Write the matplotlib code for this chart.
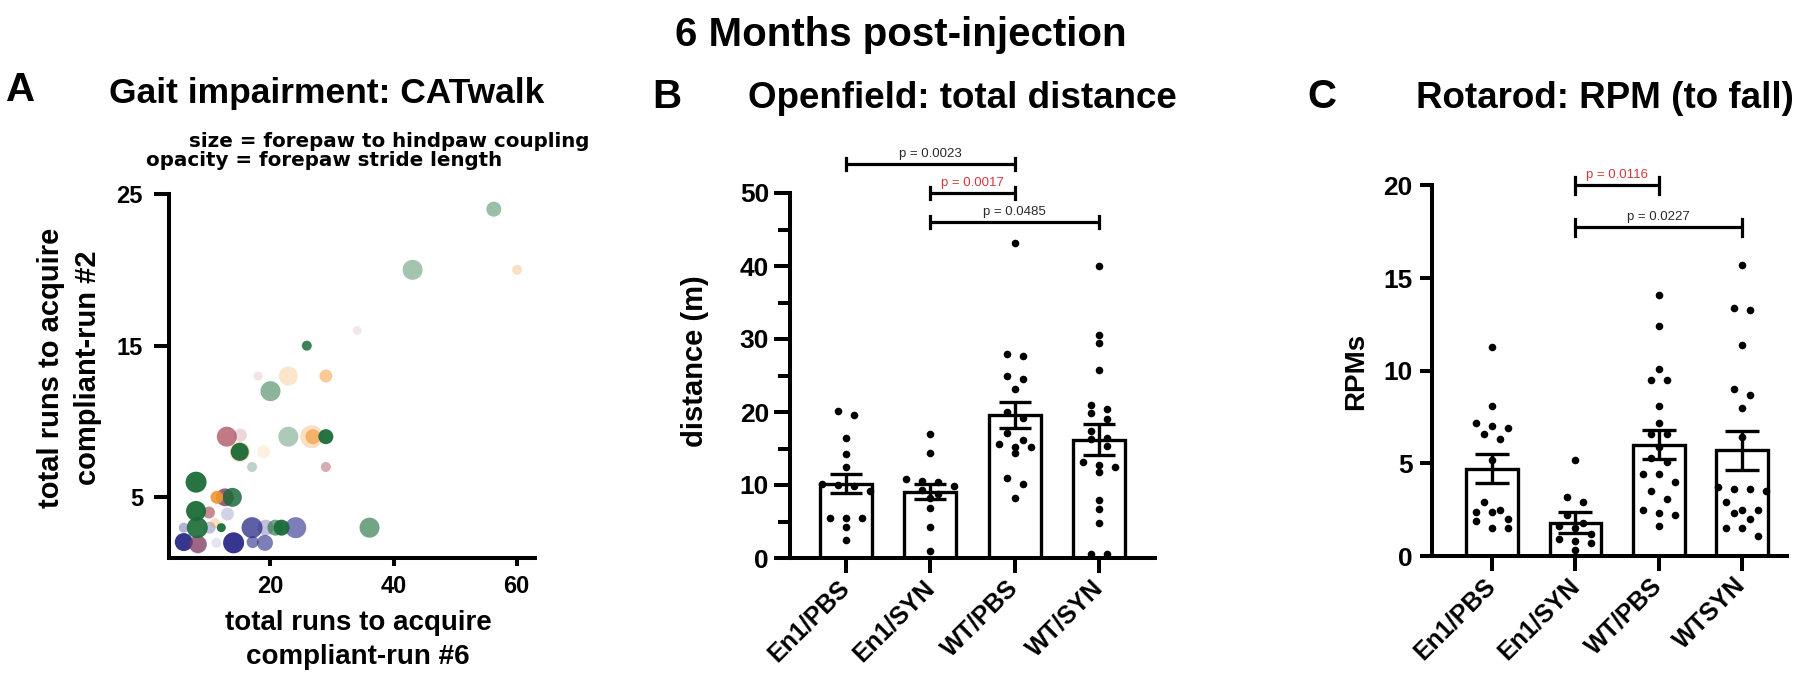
import numpy as np
import matplotlib
matplotlib.use("Agg")
import matplotlib.pyplot as plt
from matplotlib import font_manager as fm
from matplotlib.colors import to_rgba

# ----------------------------------------------------------------- data
# Panel A – CATwalk bubble scatter (one entry per animal)
cat_run6 = [12.6, 13.0, 5.9, 10.1, 17.0, 19.2, 24.1, 5.9, 8.2, 14.0, 17.1, 19.1, 11.2,
            34.1, 18.0, 12.9, 15.1, 29.0, 10.0, 12.6, 8.2,
            60.1, 22.9, 29.0, 26.7, 26.9, 15.0, 18.9, 11.3, 11.0,
            56.3, 43.1, 25.9, 20.0, 22.9, 29.0, 15.0, 17.0, 7.9, 13.8, 7.9, 8.1, 12.0, 20.8, 21.8, 36.1]
cat_run2 = [5.0, 3.9, 3.0, 3.0, 3.0, 3.0, 3.0, 2.05, 1.9, 2.0, 2.05, 2.0, 2.0,
            16.0, 13.0, 9.0, 9.1, 7.0, 4.0, 5.0, 1.9,
            20.0, 13.0, 13.0, 9.0, 9.0, 8.0, 8.0, 5.0, 3.3,
            24.0, 20.0, 15.0, 12.0, 9.0, 9.0, 8.0, 7.0, 6.0, 5.0, 4.1, 3.0, 3.0, 3.0, 3.0, 3.0]
cat_cohort = ["indigo"] * 13 + ["rose"] * 8 + ["orange"] * 9 + ["green"] * 16
cat_coupling = [80, 60, 48, 56, 92, 72, 92, 80, 80, 92, 56, 72, 48,
                44, 44, 88, 60, 48, 56, 76, 76,
                48, 84, 60, 100, 68, 88, 60, 60, 48,
                68, 88, 48, 88, 88, 68, 80, 48, 92, 84, 88, 92, 44, 72, 72, 88]
cat_stride = [6.1, 4.5, 5.2, 4.9, 7.1, 4.9, 6.4, 8.0, 5.9, 8.0, 6.4, 6.4, 4.1,
              4.1, 4.2, 6.8, 4.5, 5.6, 6.4, 6.4, 6.1,
              4.9, 4.7, 5.9, 4.9, 6.4, 5.2, 4.2, 7.8, 4.9,
              5.6, 5.4, 7.5, 5.9, 5.2, 8.0, 8.0, 4.9, 8.0, 7.5, 8.0, 7.8, 8.0, 6.4, 8.0, 6.4]

# Panel B – Openfield total distance (m)
groups_b = ["En1/PBS", "En1/SYN", "WT/PBS", "WT/SYN"]
of_en1_pbs = [20.2, 19.6, 16.5, 14.3, 12.5, 10.2, 10.0, 9.8, 9.2, 5.5, 5.5, 5.5, 4.3, 2.5]
of_en1_syn = [17.0, 14.4, 10.8, 10.6, 10.4, 9.8, 9.3, 8.7, 8.2, 6.9, 4.3, 1.0]
of_wt_pbs = [43.1, 28.0, 27.7, 25.0, 24.5, 23.2, 20.0, 19.2, 17.1, 16.1, 15.6, 15.2, 15.2,
             14.4, 11.0, 10.1, 8.2]
of_wt_syn = [40.0, 30.6, 29.5, 25.7, 21.0, 20.4, 19.9, 19.1, 17.4, 16.4, 16.3, 15.3, 13.2,
             12.7, 12.5, 11.8, 7.9, 6.7, 4.8, 0.5, 0.5]
of_mean = [10.2, 9.1, 19.6, 16.2]
of_sem = [1.3, 1.0, 1.8, 2.1]
of_tests = [(0, 2, "p = 0.0023", False), (1, 2, "p = 0.0017", True), (1, 3, "p = 0.0485", False)]

# Panel C – Rotarod RPM to fall
groups_c = ["En1/PBS", "En1/SYN", "WT/PBS", "WTSYN"]
rr_en1_pbs = [11.3, 8.1, 7.2, 7.0, 6.9, 6.6, 6.3, 5.2, 2.9, 2.5, 2.4, 2.4, 2.0, 1.9, 1.5, 1.5]
rr_en1_syn = [5.2, 3.2, 2.9, 2.2, 1.8, 1.6, 1.5, 1.2, 0.9, 0.8, 0.7, 0.3]
rr_wt_pbs = [14.1, 12.4, 10.1, 9.5, 9.5, 8.1, 7.2, 6.6, 6.6, 5.9, 5.3, 5.1, 4.4, 4.4, 4.0,
             3.5, 3.1, 2.5, 2.3, 2.2, 1.6]
rr_wt_syn = [15.7, 13.4, 13.3, 11.4, 9.0, 8.7, 8.0, 6.4, 3.7, 3.6, 3.6, 3.5, 2.9, 2.5, 2.5,
             2.3, 2.0, 1.5, 1.5, 1.1]
rr_mean = [4.7, 1.8, 6.0, 5.7]
rr_sem = [0.78, 0.55, 0.78, 1.05]
rr_tests = [(1, 2, "p = 0.0116", True), (1, 3, "p = 0.0227", False)]

# ----------------------------------------------------------------- style
plt.rcParams["font.family"] = ["Liberation Sans", "DejaVu Sans"]
plt.rcParams["font.weight"] = "bold"
W, H = 1800, 681
BLACK = "black"
RED = "#cf3b3b"
PGRAY = "#2a2a2a"
SPINE_LW = 2.9
cohort_color = {"indigo": "#2b2b8a", "rose": "#a3404f", "orange": "#f0962e", "green": "#1b6b38"}

try:
    fm.findfont(fm.FontProperties(family="Liberation Sans Narrow", weight="bold"),
                fallback_to_default=False)
    title_font, title_size = ["Liberation Sans Narrow", "Liberation Sans"], 33
except Exception:
    title_font, title_size = ["Liberation Sans", "DejaVu Sans"], 29

fig = plt.figure(figsize=(W / 100, H / 100), dpi=100)
fig.patch.set_facecolor("white")


def fx(px):
    return px / W


def fy(px):
    return 1 - px / H


def add_axes(left, right, bottom, top):
    return fig.add_axes([fx(left), fy(bottom), fx(right - left), (bottom - top) / H])


def style_spines(ax):
    for s in ("top", "right"):
        ax.spines[s].set_visible(False)
    for s in ("left", "bottom"):
        ax.spines[s].set_linewidth(SPINE_LW)
        ax.spines[s].set_capstyle("projecting")


def swarm_x(ax, xc, vals, dot_px=7.5, step_px=16.0):
    vals = np.asarray(vals, float)
    pts = ax.transData.transform(np.column_stack([np.full(vals.size, xc), vals]))
    ypx = pts[:, 1]
    order = np.argsort(-ypx)
    rows = []
    for i in order:
        if rows and (ypx[rows[-1][0]] - ypx[i]) < dot_px:
            rows[-1].append(i)
        else:
            rows.append([i])
    xpx = np.full(vals.size, pts[0, 0])
    for r in rows:
        n = len(r)
        for k, i in enumerate(r):
            xpx[i] += (k - (n - 1) / 2) * step_px
    return ax.transData.inverted().transform(np.column_stack([xpx, ypx]))[:, 0]


def bar_panel(ax, data, means, sems, labels, ylim, xlim, yticks, minor, tick_len,
              ylab_pad, capsize):
    ax.set_xlim(*xlim)
    ax.set_ylim(*ylim)
    x = np.arange(len(data))
    ax.bar(x, means, width=0.62, facecolor="white", edgecolor=BLACK, linewidth=2.4, zorder=2)
    for i, vals in enumerate(data):
        xs = swarm_x(ax, i, vals)
        ax.scatter(xs, vals, s=30, color=BLACK, linewidths=0, zorder=3, clip_on=False)
    ax.errorbar(x, means, yerr=sems, fmt="none", ecolor=BLACK, elinewidth=2.4,
                capsize=capsize, capthick=2.4, zorder=4)
    style_spines(ax)
    ax.set_yticks(yticks)
    if minor is not None:
        ax.set_yticks(minor, minor=True)
        ax.tick_params(axis="y", which="minor", length=8.4, width=SPINE_LW)
    ax.tick_params(axis="y", which="major", length=tick_len, width=SPINE_LW,
                   labelsize=19, pad=ylab_pad)
    ax.set_xticks(x)
    ax.set_xticklabels(labels, rotation=45, ha="right", va="center",
                       rotation_mode="anchor", fontsize=18, fontweight="bold")
    ax.tick_params(axis="x", length=10.5, width=SPINE_LW, pad=8)
    for lbl in ax.get_yticklabels():
        lbl.set_fontweight("bold")


def brackets(ax, tests, heights, end_px):
    ppu = ax.transData.transform((0, 1))[1] - ax.transData.transform((0, 0))[1]
    h = end_px / 2 / ppu
    for (a, b, txt, red), y in zip(tests, heights):
        ax.plot([a, b], [y, y], color=BLACK, lw=2.3, clip_on=False, solid_capstyle="butt", zorder=5)
        for xx in (a, b):
            ax.plot([xx, xx], [y - h, y + h], color=BLACK, lw=2.3, clip_on=False, zorder=5)
        ax.annotate(txt, xy=((a + b) / 2, y), xytext=(0, 7.3), textcoords="offset points",
                    ha="center", va="center", fontsize=9.5, fontweight="normal",
                    color=RED if red else PGRAY, annotation_clip=False)


# ----------------------------------------------------------------- panel A
axA = add_axes(169, 535, 558, 194)
axA.set_xlim(3.5, 63)
axA.set_ylim(1, 25)
order = ["indigo", "rose", "orange", "green"]
run6 = np.array(cat_run6)
run2 = np.array(cat_run2)
coup = np.array(cat_coupling, float)
strd = np.array(cat_stride, float)
coh = np.array(cat_cohort)
diam_px = np.interp(coup, [40, 100], [8, 23])
sizes = (diam_px * 0.72) ** 2
alphas = np.interp(strd, [4.0, 8.0], [0.10, 0.95])
for z, c in enumerate(order):
    m = coh == c
    cols = [to_rgba(cohort_color[c], a) for a in alphas[m]]
    axA.scatter(run6[m], run2[m], s=sizes[m], c=cols, linewidths=0, zorder=2 + z)
style_spines(axA)
axA.set_xticks([20, 40, 60])
axA.set_yticks([5, 15, 25])
axA.tick_params(axis="x", length=6, width=SPINE_LW, labelsize=17, pad=6.5)
axA.tick_params(axis="y", length=10.8, width=SPINE_LW, labelsize=17, pad=8)
for lbl in axA.get_xticklabels() + axA.get_yticklabels():
    lbl.set_fontweight("bold")

# ----------------------------------------------------------------- panel B
axB = add_axes(790, 1155, 558, 193)
bar_panel(axB, [of_en1_pbs, of_en1_syn, of_wt_pbs, of_wt_syn], of_mean, of_sem, groups_b,
          (0, 50), (-0.665, 3.665), np.arange(0, 51, 10), np.arange(5, 50, 10), 11.5, 3.6, 11.4)
brackets(axB, of_tests, [54, 50, 46], 12)

# ----------------------------------------------------------------- panel C
axC = add_axes(1432, 1787, 556, 185.5)
bar_panel(axC, [rr_en1_pbs, rr_en1_syn, rr_wt_pbs, rr_wt_syn], rr_mean, rr_sem, groups_c,
          (0, 20), (-0.72, 3.54), np.arange(0, 21, 5), None, 8.5, 5.5, 12)
brackets(axC, rr_tests, [20, 17.75], 17)

# ----------------------------------------------------------------- texts
fig.text(fx(901), fy(46), "6 Months post-injection", ha="center", va="baseline",
         fontsize=title_size, fontweight="bold", family=title_font)

for letter, x, yb in (("A", 21, 101), ("B", 667, 108), ("C", 1322, 108)):
    fig.text(fx(x), fy(yb), letter, ha="center", va="baseline", fontsize=29, fontweight="bold")

for title, x, yb, fs in (("Gait impairment: CATwalk", 327, 103, 25.5),
                         ("Openfield: total distance", 962, 108, 26.5),
                         ("Rotarod: RPM (to fall)", 1605, 108, 26.5)):
    fig.text(fx(x), fy(yb), title, ha="center", va="baseline", fontsize=fs, fontweight="bold")

fig.text(fx(389), fy(147), "size = forepaw to hindpaw coupling", ha="center", va="baseline",
         fontsize=14.3, fontweight="bold", family=["DejaVu Sans"])
fig.text(fx(324), fy(166), "opacity = forepaw stride length", ha="center", va="baseline",
         fontsize=14.3, fontweight="bold", family=["DejaVu Sans"])

fig.text(fx(69.5), fy(368), "total runs to acquire\ncompliant-run #2", rotation=90,
         ha="center", va="center", multialignment="center", fontsize=21, fontweight="bold",
         linespacing=1.42)
fig.text(fx(358), fy(640), "total runs to acquire\ncompliant-run #6", ha="center", va="center",
         multialignment="center", fontsize=20, fontweight="bold", linespacing=1.38)
fig.text(fx(695), fy(361), "distance (m)", rotation=90, ha="center", va="center",
         fontsize=21, fontweight="bold")
fig.text(fx(1356), fy(371), "RPMs", rotation=90, ha="center", va="center",
         fontsize=20, fontweight="bold")

fig.savefig("out.png", dpi=100, facecolor="white")
